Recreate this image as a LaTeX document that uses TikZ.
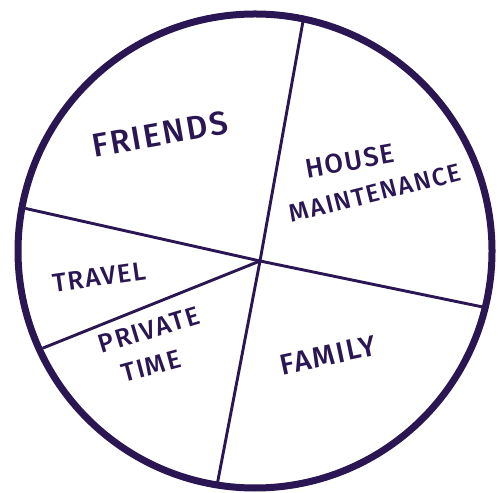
\documentclass[tikz,border=0pt]{standalone}
\usepackage{fontspec}
\setsansfont{Fira Sans Medium}
\usepackage{tikz}
\usetikzlibrary{positioning}
\definecolor{ink}{RGB}{42, 22, 82}
\newcommand{\piefont}[1]{\sffamily\fontsize{#1}{#1}\selectfont\addfontfeature{LetterSpace=6}}

\begin{document}
\begin{tikzpicture}[
    x=1pt, y=1pt,
    ring/.style={draw=ink, line width=7pt},
    spoke/.style={draw=ink, line width=2.9pt, line cap=round},
    lbl/.style={text=ink, inner sep=0pt, align=center},
  ]
    \useasboundingbox (0,0) rectangle (497,492);

    % outer circle and the hub where the cuts meet
    \coordinate (o) at (255,241);
    \coordinate (hub) at (260,231);
    \draw[ring] (o) circle [radius=237];

    % where each cut meets the rim
    \coordinate (rimTop)   at ([shift={(78.2:235)}]o);
    \coordinate (rimLeft)  at ([shift={(169.5:233)}]o);
    \coordinate (rimRight) at ([shift={(-13.8:236)}]o);
    \coordinate (rimLow)   at ([shift={(204.6:233)}]o);
    \coordinate (rimBot)   at ([shift={(-99.2:236)}]o);

    \draw[spoke] (hub) -- (rimTop);
    \draw[spoke] (hub) -- (rimLeft);
    \draw[spoke] (hub) -- (rimRight);
    \draw[spoke] (hub) -- (rimLow);
    \draw[spoke] (hub) -- (rimBot);

    % slice labels
    \node[lbl, rotate=10, font=\piefont{33}] (friends) at (160,358) {FRIENDS};
    \node[lbl, rotate=10, font=\piefont{27}] (house) at (350,331) {HOUSE};
    \node[lbl, rotate=14, font=\piefont{25}] (maint) at (375,299) {MAINTENANCE};
    \node[lbl, rotate=8, font=\piefont{26}] (travel) at (99,215) {TRAVEL};
    \node[lbl, rotate=17, font=\piefont{26}] (private) at (149,162) {PRIVATE};
    \node[lbl, rotate=15, font=\piefont{26}] (time) at (151,126) {TIME};
    \node[lbl, rotate=12, font=\piefont{29}] (family) at (328,137) {FAMILY};
  \end{tikzpicture}
\end{document}
